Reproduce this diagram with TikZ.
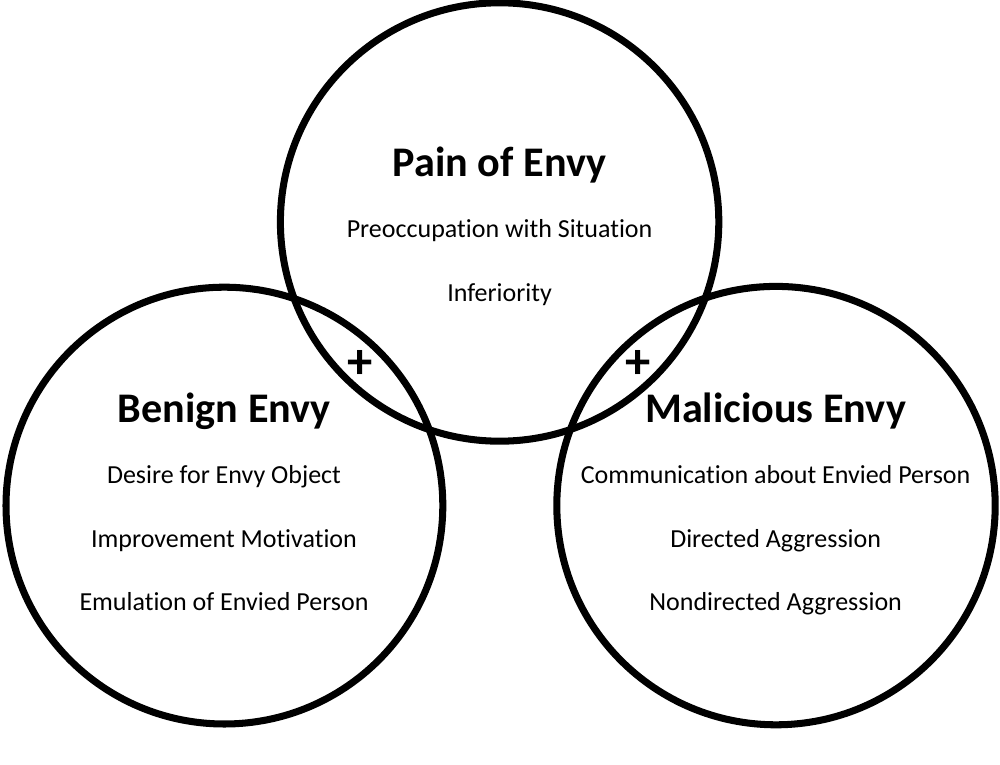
\documentclass[tikz,border=0pt]{standalone}
\usepackage{fontspec}
\setmainfont[Ligatures=NoCommon]{Carlito}
\begin{document}
\begin{tikzpicture}[
    ring/.style={line width=5pt},
    heading/.style={font=\fontsize{30}{36}\selectfont\bfseries, anchor=base, inner sep=0pt},
    item/.style={font=\fontsize{18.5}{22}\selectfont, anchor=base, inner sep=0pt},
    overlap/.style={font=\fontsize{36}{40}\selectfont\bfseries, inner sep=0pt}]
  \useasboundingbox (0,0) rectangle (25,19.1);
  \coordinate (pain) at (12.49,13.55);
  \coordinate (benign) at (5.61,6.46);
  \coordinate (malicious) at (19.4,6.46);
  \draw[ring] (pain) circle (5.48);
  \draw[ring] (benign) circle (5.46);
  \draw[ring] (malicious) circle (5.48);
  \node[heading] (painT) at (12.49,14.675) {Pain of Envy};
  \node[item] (preocc) at (12.49,13.15) {Preoccupation with Situation};
  \node[item] (infer) at (12.49,11.55) {Inferiority};
  \node[overlap] (plusL) at (8.99,10.0) {+};
  \node[overlap] (plusR) at (15.96,10.0) {+};
  \node[heading] (benignT) at (5.61,8.55) {Benign Envy};
  \node[item] (desire) at (5.6,7.025) {Desire for Envy Object};
  \node[item] (improve) at (5.6,5.425) {Improvement Motivation};
  \node[item] (emul) at (5.6,3.85) {Emulation of Envied Person};
  \node[heading] (maliciousT) at (19.39,8.55) {Malicious Envy};
  \node[item] (comm) at (19.39,7.025) {Communication about Envied Person};
  \node[item] (directed) at (19.39,5.425) {Directed Aggression};
  \node[item] (nondir) at (19.39,3.85) {Nondirected Aggression};
\end{tikzpicture}
\end{document}
